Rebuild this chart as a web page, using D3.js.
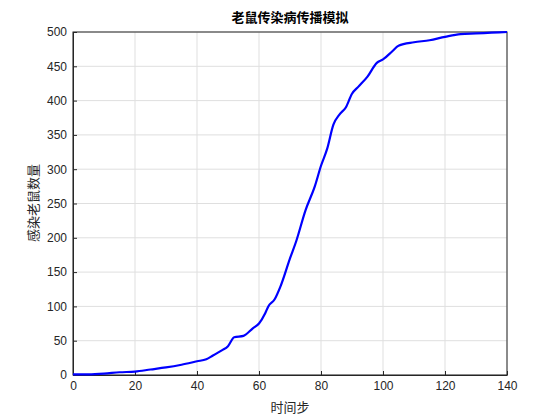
<!DOCTYPE html><html><head><meta charset="utf-8"><script src="https://cdn.jsdelivr.net/npm/d3@7"></script>
<style>body{margin:0;background:#fff}</style></head><body><svg id="c" width="560" height="420"></svg><script>
const tSteps=[0,5,10,15,20,25,30,35,40,43,45,48,50,52,55,58,60,62,63,65,67,70,72,75,78,80,82,84,86,88,90,92,95,98,100,103,105,110,115,120,125,130,135,140];
const infected=[1,1,2,4,5,8,11,15,20,23,28,36,42,55,57,68,75,90,100,110,130,170,195,240,275,305,330,365,380,390,410,420,435,455,460,472,480,485,488,493,497,498,499,500];
const xTicks=[0,20,40,60,80,100,120,140];
const yTicks=[0,50,100,150,200,250,300,350,400,450,500];
const L=73,R=507,T=32,B=375;
const svg=d3.select("#c");
svg.append("rect").attr("width",560).attr("height",420).attr("fill","#fff");
const x=d3.scaleLinear().domain([0,140]).range([L,R]);
const y=d3.scaleLinear().domain([0,500]).range([B,T]);
const g=svg.append("g");
g.selectAll(".gx").data(xTicks).join("line").attr("x1",d=>x(d)).attr("x2",d=>x(d)).attr("y1",T).attr("y2",B).attr("stroke","#dfdfdf");
g.selectAll(".gy").data(yTicks).join("line").attr("y1",d=>y(d)).attr("y2",d=>y(d)).attr("x1",L).attr("x2",R).attr("stroke","#dfdfdf");
const ax=svg.append("g").attr("transform",`translate(0,${B})`).call(d3.axisBottom(x).tickValues(xTicks).tickSizeInner(-4).tickSizeOuter(0).tickPadding(6));
const ay=svg.append("g").attr("transform",`translate(${L},0)`).call(d3.axisLeft(y).tickValues(yTicks).tickSizeInner(-4).tickSizeOuter(0).tickPadding(6));
[ax,ay].forEach(a=>{a.selectAll("text").attr("font-family","Arial, Liberation Sans").attr("font-size",12).attr("fill","#262626");a.selectAll("line,path").attr("stroke","#262626");});
svg.append("rect").attr("x",L).attr("y",T).attr("width",R-L).attr("height",B-T).attr("fill","none").attr("stroke","#262626");
svg.append("path").datum(tSteps.map((t,i)=>[t,infected[i]])).attr("d",d3.line().x(d=>x(d[0])).y(d=>y(d[1])).curve(d3.curveMonotoneX)).attr("fill","none").attr("stroke","#0000ff").attr("stroke-width",2.2);
svg.append("text").attr("x",290).attr("y",22).attr("text-anchor","middle").attr("font-family","Noto Sans CJK SC").attr("font-weight","bold").attr("font-size",13).attr("fill","#000").text("老鼠传染病传播模拟");
svg.append("text").attr("x",290).attr("y",412).attr("text-anchor","middle").attr("font-family","Noto Sans CJK SC").attr("font-size",13).attr("fill","#262626").text("时间步");
svg.append("text").attr("transform","translate(38,203) rotate(-90)").attr("text-anchor","middle").attr("font-family","Noto Sans CJK SC").attr("font-size",13).attr("fill","#262626").text("感染老鼠数量");
</script></body></html>
